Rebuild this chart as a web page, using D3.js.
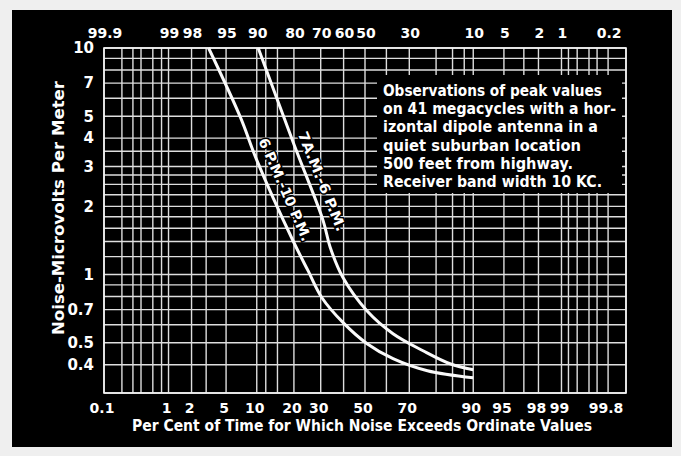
<!DOCTYPE html>
<html>
<head>
<meta charset="utf-8">
<script src="https://cdn.jsdelivr.net/npm/d3@7"></script>
<style>
  body { margin: 0; background: #efefef; }
  svg { display: block; }
  text { fill: #fff; font-family: "DejaVu Sans", sans-serif; }
</style>
</head>
<body>
<svg id="chart" width="681" height="456"></svg>
<script>
// percent of time (probability scale) and noise level (microvolts per meter)
const nightPct = [3.2, 7, 10, 19.7, 25, 30.5, 40, 51, 63, 77, 90];
const nightVal = [10, 4.95, 3.2, 1.41, 1.04, 0.79, 0.61, 0.495, 0.425, 0.376, 0.35];
const dayPct = [10.3, 20, 31, 34, 39.7, 51, 63, 75.4, 84.3, 90];
const dayVal = [10, 3.76, 1.73, 1.32, 0.97, 0.69, 0.548, 0.461, 0.404, 0.38];

const bottomTicks = [0.1, 1, 2, 5, 10, 20, 30, 50, 70, 90, 95, 98, 99, 99.8];
const topTicks = [99.9, 99, 98, 95, 90, 80, 70, 60, 50, 30, 10, 5, 2, 1, 0.2];
const yTicks = [0.4, 0.5, 0.7, 1, 2, 3, 4, 5, 7, 10];

const xGrid = [0.1, 0.2, 0.3, 0.4, 0.6, 0.8, 1, 2, 3, 5, 10, 12, 15, 20, 30, 40, 50, 60, 70, 80, 85, 88, 90, 95, 97, 98, 99, 99.2, 99.4, 99.6, 99.7, 99.8, 99.9];
const yGrid = [0.3, 0.4, 0.5, 0.6, 0.7, 0.8, 0.9, 1, 1.2, 1.4, 1.6, 1.8, 2, 2.25, 2.5, 2.75, 3, 3.5, 4, 5, 6, 7, 8, 9, 10];

const noteLines = [
  "Observations of peak values",
  "on 41 megacycles with a hor-",
  "izontal  dipole antenna in a",
  "quiet suburban location",
  "500 feet from highway.",
  "Receiver band width 10 KC."
];
const noteWidths = [219, 233, 215, 198, 190, 219];

// inverse normal CDF (Acklam), used for the probability axis
function probit(p) {
  const a = [-39.69683028665376, 220.9460984245205, -275.9285104469687, 138.3577518672690, -30.66479806614716, 2.506628277459239];
  const b = [-54.47609879822406, 161.5858368580409, -155.6989798598866, 66.80131188771972, -13.28068155288572];
  const c = [-0.007784894002430293, -0.3223964580411365, -2.400758277161838, -2.549732539343734, 4.374664141464968, 2.938163982698783];
  const d = [0.007784695709041462, 0.3224671290700398, 2.445134137142996, 3.754408661907416];
  const pl = 0.02425;
  if (p < pl) {
    const q = Math.sqrt(-2 * Math.log(p));
    return (((((c[0]*q+c[1])*q+c[2])*q+c[3])*q+c[4])*q+c[5]) / ((((d[0]*q+d[1])*q+d[2])*q+d[3])*q+1);
  }
  if (p > 1 - pl) {
    const q = Math.sqrt(-2 * Math.log(1 - p));
    return -(((((c[0]*q+c[1])*q+c[2])*q+c[3])*q+c[4])*q+c[5]) / ((((d[0]*q+d[1])*q+d[2])*q+d[3])*q+1);
  }
  const q = p - 0.5, r = q * q;
  return (((((a[0]*r+a[1])*r+a[2])*r+a[3])*r+a[4])*r+a[5])*q / (((((b[0]*r+b[1])*r+b[2])*r+b[3])*r+b[4])*r+1);
}

const plotLeft = 104, plotRight = 626, plotTop = 48, plotBottom = 393;
const zScale = d3.scaleLinear().domain([probit(0.001), probit(0.999)]).range([plotLeft, plotRight]);
const x = p => zScale(probit(p / 100));
const y = d3.scaleLog().domain([0.3, 10]).range([plotBottom, plotTop]);

const tickFont = "DejaVu Sans Condensed, DejaVu Sans, sans-serif";
const svg = d3.select("#chart");

// black card
svg.append("rect")
  .attr("x", 12).attr("y", 10).attr("width", 660).attr("height", 437)
  .attr("fill", "#000");

// grid
const grid = svg.append("g").attr("stroke", "#dedede").attr("stroke-width", 1.4);
grid.selectAll("line.v").data(xGrid).enter().append("line")
  .attr("class", "v")
  .attr("x1", d => x(d)).attr("x2", d => x(d))
  .attr("y1", plotTop).attr("y2", plotBottom);
grid.selectAll("line.h").data(yGrid).enter().append("line")
  .attr("class", "h")
  .attr("x1", plotLeft).attr("x2", plotRight)
  .attr("y1", d => y(d)).attr("y2", d => y(d));

svg.append("rect")
  .attr("x", plotLeft).attr("y", plotTop)
  .attr("width", plotRight - plotLeft).attr("height", plotBottom - plotTop)
  .attr("fill", "none").attr("stroke", "#f4f4f4").attr("stroke-width", 1.6);

// note box
const note = svg.append("g");
note.append("rect")
  .attr("x", 377).attr("y", 75).attr("width", 245).attr("height", 118)
  .attr("fill", "#000");
note.selectAll("text").data(noteLines).enter().append("text")
  .attr("x", 383)
  .attr("y", (d, i) => 96 + i * 18.2)
  .attr("font-size", 15)
  .attr("font-weight", "bold")
  .attr("textLength", (d, i) => noteWidths[i])
  .attr("lengthAdjust", "spacingAndGlyphs")
  .text(d => d);

// curve labels, set just to the right of each curve (drawn before the curves)
const curveLabels = [
  {text: "6 P.M.-10 P.M.", p: 13.3, v: 2.37, dx: 14, angle: 66.4, len: 111},
  {text: "7A.M.-6 P.M.", p: 25, v: 2.58, dx: 14, angle: 68, len: 106}
];
svg.append("g").selectAll("text").data(curveLabels).enter().append("text")
  .attr("transform", d => `translate(${x(d.p) + d.dx},${y(d.v)}) rotate(${d.angle})`)
  .attr("text-anchor", "middle")
  .attr("dy", "0.35em")
  .attr("font-size", 14)
  .attr("font-weight", "bold")
  .attr("stroke", "#000").attr("stroke-width", 3).attr("paint-order", "stroke")
  .attr("textLength", d => d.len)
  .attr("lengthAdjust", "spacingAndGlyphs")
  .text(d => d.text);

// curves
const line = d3.line()
  .x(d => x(d[0]))
  .y(d => y(d[1]))
  .curve(d3.curveCatmullRom.alpha(0.5));

const curves = [d3.zip(nightPct, nightVal), d3.zip(dayPct, dayVal)];
svg.append("g").selectAll("path").data(curves).enter().append("path")
  .attr("d", line)
  .attr("fill", "none")
  .attr("stroke", "#fafafa")
  .attr("stroke-width", 3);

// y axis
const yAxis = svg.append("g")
  .attr("transform", `translate(${plotLeft - 7},0)`)
  .call(d3.axisLeft(y).tickValues(yTicks).tickFormat(d3.format("")).tickSize(0));
yAxis.select(".domain").remove();
yAxis.selectAll("text")
  .attr("fill", "#fff")
  .attr("font-size", 15)
  .attr("font-weight", "bold")
  .attr("font-family", tickFont);

// bottom ticks
svg.append("g").selectAll("text").data(bottomTicks).enter().append("text")
  .attr("x", d => x(d) - 2)
  .attr("y", 413)
  .attr("text-anchor", "middle")
  .attr("font-size", 14)
  .attr("font-weight", "bold")
  .attr("font-family", tickFont)
  .text(d => d);

// top ticks (complement of the bottom scale)
svg.append("g").selectAll("text").data(topTicks).enter().append("text")
  .attr("x", d => x(100 - d) + 1)
  .attr("y", 38)
  .attr("text-anchor", "middle")
  .attr("font-size", 14)
  .attr("font-weight", "bold")
  .attr("font-family", tickFont)
  .text(d => d);

// axis titles
svg.append("text")
  .attr("x", 362).attr("y", 431)
  .attr("text-anchor", "middle")
  .attr("font-size", 15)
  .attr("font-weight", "bold")
  .attr("textLength", 460).attr("lengthAdjust", "spacingAndGlyphs")
  .text("Per Cent of Time for Which Noise Exceeds Ordinate Values");

svg.append("text")
  .attr("transform", "translate(64,208) rotate(-90)")
  .attr("text-anchor", "middle")
  .attr("font-size", 15)
  .attr("font-weight", "bold")
  .attr("textLength", 254).attr("lengthAdjust", "spacingAndGlyphs")
  .text("Noise-Microvolts Per Meter");
</script>
</body>
</html>
